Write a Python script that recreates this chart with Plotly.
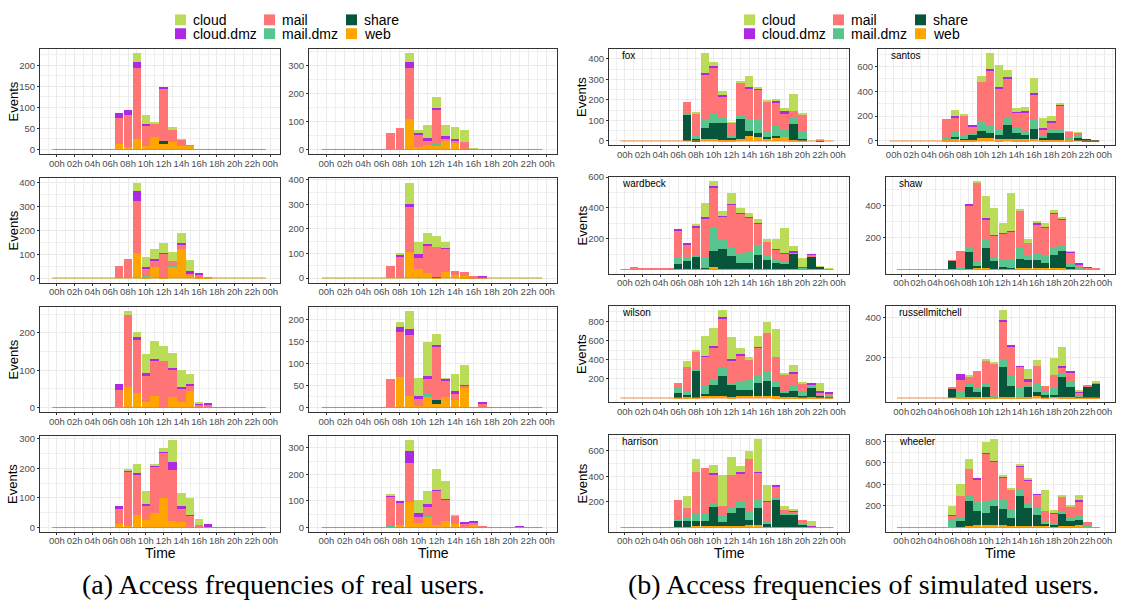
import numpy as np
import plotly.graph_objects as go

# ---------------- data ----------------
HOURS = list(range(24))
X_TICK_VALUES = list(range(0, 25, 2))
X_TICK_LABELS = ["00h", "02h", "04h", "06h", "08h", "10h", "12h",
                 "14h", "16h", "18h", "20h", "22h", "00h"]
SERVICES = ["cloud", "cloud.dmz", "mail", "mail.dmz", "share", "web"]
STACK_ORDER = ["web", "share", "mail.dmz", "mail", "cloud.dmz", "cloud"]
Z6 = [0, 0, 0, 0, 0, 0]

# ---- (a) real users ----
REAL1_WEB = Z6 + [0, 12, 5, 24, 9, 29] + [12, 17, 8, 10, 0, 0] + Z6
REAL1_SHARE = Z6 + [0, 0, 0, 0, 0, 0] + [8, 0, 0, 0, 0, 0] + Z6
REAL1_MAILDMZ = Z6 + Z6 + Z6 + Z6
REAL1_MAIL = Z6 + [0, 62, 76, 171, 50, 34] + [123, 29, 16, 1, 0, 0] + Z6
REAL1_CLOUDDMZ = Z6 + [0, 12, 14, 14, 2, 0] + [6, 0, 0, 0, 0, 0] + Z6
REAL1_CLOUD = Z6 + [0, 0, 0, 20, 20, 2] + [0, 8, 2, 0, 0, 0] + Z6

REAL2_WEB = Z6 + [0, 0, 0, 107, 9, 15] + [17, 32, 27, 2, 0, 0] + Z6
REAL2_SHARE = Z6 + Z6 + Z6 + Z6
REAL2_MAILDMZ = Z6 + Z6 + [1, 0, 0, 0, 0, 0] + Z6
REAL2_MAIL = Z6 + [0, 60, 78, 184, 42, 14] + [122, 7, 6, 24, 0, 0] + Z6
REAL2_CLOUDDMZ = Z6 + [0, 0, 0, 21, 9, 11] + [9, 8, 6, 0, 0, 0] + Z6
REAL2_CLOUD = Z6 + [0, 0, 0, 31, 8, 46] + [39, 42, 41, 43, 5, 0] + Z6

REAL3_WEB = Z6 + [0, 0, 0, 105, 5, 45] + [2, 50, 123, 11, 1, 4] + Z6
REAL3_SHARE = Z6 + Z6 + Z6 + Z6
REAL3_MAILDMZ = Z6 + [0, 0, 0, 0, 7, 0] + [0, 2, 0, 0, 0, 0] + Z6
REAL3_MAIL = Z6 + [0, 52, 78, 220, 26, 25] + [100, 20, 19, 4, 12, 0] + Z6
REAL3_CLOUDDMZ = Z6 + [0, 0, 0, 39, 8, 9] + [3, 0, 5, 16, 4, 0] + Z6
REAL3_CLOUD = Z6 + [0, 0, 0, 36, 43, 41] + [42, 38, 41, 43, 0, 0] + Z6

REAL4_WEB = Z6 + [0, 0, 0, 106, 38, 22] + [2, 25, 12, 8, 0, 0] + Z6
REAL4_SHARE = Z6 + Z6 + [4, 0, 0, 0, 0, 0] + Z6
REAL4_MAILDMZ = Z6 + Z6 + [0, 3, 0, 0, 0, 0] + Z6
REAL4_MAIL = Z6 + [0, 50, 88, 183, 43, 110] + [121, 91, 18, 16, 7, 3] + Z6
REAL4_CLOUDDMZ = Z6 + [0, 0, 7, 12, 17, 7] + [0, 2, 0, 0, 0, 6] + Z6
REAL4_CLOUD = Z6 + [0, 0, 3, 87, 49, 43] + [43, 26, 0, 0, 0, 0] + Z6

REAL5_WEB = Z6 + [0, 0, 55, 39, 15, 31] + [2, 27, 15, 44, 5, 4] + Z6
REAL5_SHARE = Z6 + Z6 + Z6 + Z6
REAL5_MAILDMZ = Z6 + Z6 + Z6 + Z6
REAL5_MAIL = Z6 + [0, 48, 194, 145, 72, 95] + [123, 75, 34, 15, 4, 5] + Z6
REAL5_CLOUDDMZ = Z6 + [0, 16, 0, 5, 5, 5] + [0, 3, 6, 5, 4, 2] + Z6
REAL5_CLOUD = Z6 + [0, 0, 9, 14, 52, 48] + [40, 42, 45, 27, 3, 0] + Z6

REAL6_WEB = Z6 + [0, 0, 70, 25, 4, 27] + [8, 24, 18, 47, 0, 0] + Z6
REAL6_SHARE = Z6 + Z6 + [10, 0, 0, 0, 0, 0] + Z6
REAL6_MAILDMZ = Z6 + [0, 0, 0, 0, 0, 3] + Z6 + Z6
REAL6_MAIL = Z6 + [0, 64, 102, 139, 15, 35] + [118, 37, 13, 3, 0, 10] + Z6
REAL6_CLOUDDMZ = Z6 + [0, 0, 10, 14, 6, 6] + [6, 5, 7, 2, 0, 2] + Z6
REAL6_CLOUD = Z6 + [0, 0, 11, 40, 41, 78] + [24, 1, 38, 44, 1, 0] + Z6

REAL7_WEB = Z6 + [0, 12, 5, 44, 25, 48] + [100, 22, 20, 3, 0, 0] + Z6
REAL7_SHARE = Z6 + Z6 + Z6 + Z6
REAL7_MAILDMZ = Z6 + Z6 + [0, 0, 1, 0, 0, 0] + Z6
REAL7_MAIL = Z6 + [0, 50, 183, 133, 48, 160] + [153, 172, 41, 36, 9, 2] + Z6
REAL7_CLOUDDMZ = Z6 + [0, 11, 4, 8, 7, 3] + [2, 27, 12, 2, 0, 10] + Z6
REAL7_CLOUD = Z6 + [0, 0, 3, 29, 45, 2] + [15, 74, 42, 59, 21, 0] + Z6

REAL8_WEB = Z6 + [0, 5, 10, 95, 18, 43] + [11, 24, 13, 5, 12, 0] + Z6
REAL8_SHARE = Z6 + Z6 + Z6 + Z6
REAL8_MAILDMZ = Z6 + [0, 5, 0, 0, 0, 3] + Z6 + Z6
REAL8_MAIL = Z6 + [0, 108, 83, 149, 23, 32] + [128, 83, 31, 7, 6, 7] + Z6
REAL8_CLOUDDMZ = Z6 + [0, 4, 4, 44, 13, 12] + [2, 2, 0, 8, 6, 0] + [0, 0, 0, 3, 0, 0]
REAL8_CLOUD = Z6 + [0, 2, 0, 40, 51, 48] + [80, 65, 2, 0, 0, 0] + Z6

# ---- (b) simulated users ----
SIM_NAMES = ["fox", "santos", "wardbeck", "shaw",
             "wilson", "russellmitchell", "harrison", "wheeler"]

FOX_WEB = Z6 + [0, 0, 2, 11, 11, 6] + [3, 11, 22, 17, 16, 17] + [17, 6, 6, 0, 0, 0]
FOX_SHARE = Z6 + [0, 127, 9, 53, 76, 81] + [11, 95, 27, 23, 1, 5] + [0, 78, 5, 0, 5, 0]
FOX_MAILDMZ = Z6 + [0, 11, 11, 42, 50, 23] + [13, 22, 51, 60, 32, 49] + [39, 26, 33, 0, 0, 0]
FOX_MAIL = Z6 + [0, 54, 116, 216, 223, 104] + [63, 158, 156, 154, 146, 121] + [77, 36, 85, 0, 3, 0]
FOX_CLOUDDMZ = Z6 + [0, 0, 0, 11, 7, 11] + [0, 0, 9, 4, 0, 3] + [13, 0, 0, 0, 0, 0]
FOX_CLOUD = Z6 + [0, 0, 5, 96, 20, 19] + [3, 4, 51, 4, 5, 10] + [14, 84, 9, 0, 4, 0]

SANTOS_WEB = Z6 + [5, 13, 13, 8, 26, 21] + [13, 18, 13, 13, 18, 10] + [10, 10, 5, 0, 0, 0]
SANTOS_SHARE = Z6 + [0, 21, 11, 37, 53, 45] + [32, 112, 53, 32, 80, 24] + [56, 56, 0, 32, 13, 5]
SANTOS_MAILDMZ = Z6 + [21, 48, 16, 18, 82, 64] + [48, 63, 37, 37, 69, 16] + [24, 24, 19, 5, 0, 0]
SANTOS_MAIL = Z6 + [151, 111, 169, 61, 315, 444] + [330, 310, 127, 153, 209, 48] + [66, 201, 53, 34, 0, 0]
SANTOS_CLOUDDMZ = Z6 + [0, 8, 0, 6, 0, 8] + [8, 10, 3, 8, 10, 8] + [8, 8, 0, 0, 0, 0]
SANTOS_CLOUD = Z6 + [0, 48, 5, 0, 48, 127] + [177, 61, 29, 32, 125, 77] + [34, 8, 5, 4, 0, 0]

WARDBECK_WEB = Z6 + [0, 0, 6, 4, 13, 2] + [4, 6, 6, 6, 6, 6] + [3, 0, 0, 0, 0, 0]
WARDBECK_SHARE = [2, 8, 0, 0, 0, 0] + [34, 52, 76, 5, 110, 133] + [82, 33, 33, 89, 54, 35] + [31, 105, 9, 84, 18, 6]
WARDBECK_MAILDMZ = Z6 + [39, 32, 15, 73, 148, 61] + [62, 71, 79, 64, 35, 26] + [15, 5, 4, 0, 0, 0]
WARDBECK_MAIL = [0, 3, 4, 4, 4, 4] + [181, 79, 178, 249, 264, 146] + [273, 256, 217, 138, 86, 62] + [54, 2, 0, 11, 0, 0]
WARDBECK_CLOUDDMZ = Z6 + [6, 7, 5, 11, 7, 4] + [5, 4, 5, 4, 0, 4] + [5, 6, 6, 4, 0, 0]
WARDBECK_CLOUD = Z6 + [0, 0, 17, 90, 30, 35] + [71, 30, 28, 28, 15, 63] + [163, 35, 58, 0, 4, 3]

SHAW_WEB = Z6 + [0, 0, 6, 10, 8, 6] + [8, 4, 8, 8, 8, 8] + [8, 8, 2, 2, 0, 0]
SHAW_SHARE = Z6 + [53, 4, 104, 12, 127, 47] + [6, 3, 59, 53, 53, 31] + [84, 108, 16, 0, 0, 0]
SHAW_MAILDMZ = Z6 + [0, 8, 25, 27, 47, 27] + [47, 52, 68, 23, 41, 53] + [43, 29, 15, 10, 0, 0]
SHAW_MAIL = [2, 2, 2, 2, 2, 2] + [4, 104, 263, 494, 132, 130] + [161, 178, 234, 79, 180, 167] + [216, 169, 73, 21, 12, 12]
SHAW_CLOUDDMZ = Z6 + [0, 0, 4, 0, 10, 4] + [5, 4, 0, 0, 10, 4] + [4, 6, 4, 4, 2, 0]
SHAW_CLOUD = Z6 + [0, 0, 0, 6, 133, 172] + [61, 237, 9, 27, 6, 25] + [16, 4, 4, 0, 0, 0]

WILSON_WEB = Z6 + [2, 9, 2, 26, 26, 26] + [9, 26, 26, 26, 26, 16] + [9, 9, 9, 9, 9, 9]
WILSON_SHARE = Z6 + [55, 21, 287, 20, 109, 201] + [132, 58, 58, 130, 150, 99] + [58, 68, 17, 102, 17, 14]
WILSON_MAILDMZ = Z6 + [44, 34, 10, 79, 61, 85] + [17, 92, 102, 78, 102, 48] + [10, 58, 41, 10, 17, 13]
WILSON_MAIL = Z6 + [55, 259, 195, 310, 341, 525] + [239, 272, 215, 293, 396, 269] + [174, 123, 89, 24, 20, 21]
WILSON_CLOUDDMZ = Z6 + [0, 0, 0, 7, 7, 7] + [7, 7, 0, 10, 0, 0] + [0, 10, 0, 11, 10, 6]
WILSON_CLOUD = Z6 + [0, 61, 9, 205, 184, 75] + [232, 68, 30, 110, 116, 283] + [7, 72, 10, 0, 83, 0]

RUSSELL_WEB = Z6 + [0, 5, 5, 6, 5, 2] + [5, 6, 3, 5, 10, 5] + [10, 5, 5, 2, 2, 2]
RUSSELL_SHARE = Z6 + [50, 0, 50, 25, 50, 0] + [149, 54, 0, 50, 21, 8] + [5, 101, 50, 10, 60, 74]
RUSSELL_MAILDMZ = Z6 + [0, 24, 13, 23, 13, 11] + [39, 49, 46, 10, 37, 20] + [34, 13, 30, 5, 0, 0]
RUSSELL_MAIL = Z6 + [5, 60, 41, 83, 122, 161] + [192, 148, 109, 20, 90, 27] + [65, 35, 43, 11, 3, 3]
RUSSELL_CLOUDDMZ = Z6 + [0, 30, 0, 0, 0, 0] + [5, 5, 3, 8, 0, 0] + [0, 5, 4, 8, 0, 0]
RUSSELL_CLOUD = Z6 + [0, 0, 5, 0, 5, 5] + [49, 0, 0, 50, 29, 0] + [84, 96, 0, 6, 0, 4]

HARRISON_WEB = Z6 + [0, 5, 10, 10, 15, 10] + [10, 10, 21, 21, 5, 5] + [5, 5, 10, 0, 0, 0]
HARRISON_SHARE = Z6 + [54, 49, 44, 39, 144, 34] + [105, 139, 35, 128, 26, 208] + [95, 98, 10, 0, 0, 0]
HARRISON_MAILDMZ = Z6 + [8, 18, 49, 54, 28, 43] + [34, 59, 62, 72, 20, 20] + [8, 7, 6, 0, 0, 0]
HARRISON_MAIL = Z6 + [151, 77, 335, 364, 231, 82] + [264, 218, 418, 210, 149, 90] + [28, 18, 36, 3, 3, 2]
HARRISON_CLOUDDMZ = Z6 + [0, 0, 0, 0, 8, 0] + [0, 5, 0, 7, 5, 5] + [0, 5, 0, 5, 0, 0]
HARRISON_CLOUD = Z6 + [0, 95, 98, 0, 66, 244] + [138, 51, 61, 252, 131, 0] + [31, 5, 0, 44, 0, 0]

WHEELER_WEB = Z6 + [6, 6, 15, 27, 27, 21] + [27, 15, 15, 15, 15, 15] + [6, 15, 15, 21, 9, 0]
WHEELER_SHARE = Z6 + [0, 58, 230, 128, 106, 179] + [146, 76, 282, 164, 103, 18] + [15, 112, 49, 52, 0, 0]
WHEELER_MAILDMZ = Z6 + [61, 24, 46, 90, 100, 67] + [91, 73, 48, 48, 64, 31] + [21, 21, 21, 39, 12, 0]
WHEELER_MAIL = Z6 + [45, 203, 254, 203, 455, 345] + [203, 181, 225, 209, 121, 91] + [88, 137, 106, 130, 31, 0]
WHEELER_CLOUDDMZ = Z6 + [6, 0, 0, 7, 6, 6] + [6, 0, 6, 6, 6, 0] + [6, 6, 0, 10, 0, 0]
WHEELER_CLOUD = Z6 + [79, 109, 91, 0, 97, 200] + [18, 25, 15, 19, 0, 190] + [28, 12, 15, 48, 0, 0]

CAPTION_A = "(a) Access frequencies of real users."
CAPTION_B = "(b) Access frequencies of simulated users."

# ---------------- styling ----------------
COLORS = {"cloud": "#BADC58", "cloud.dmz": "#AE2AE2", "mail": "#FF7575",
          "mail.dmz": "#58C48E", "share": "#07553A", "web": "#FFA500"}
W, H = 1125, 610
SANS = "Liberation Sans, Arial, sans-serif"


def stack(web, share, mdmz, mail, cdmz, cloud):
    return {"web": web, "share": share, "mail.dmz": mdmz, "mail": mail,
            "cloud.dmz": cdmz, "cloud": cloud}


REAL = [
    stack(REAL1_WEB, REAL1_SHARE, REAL1_MAILDMZ, REAL1_MAIL, REAL1_CLOUDDMZ, REAL1_CLOUD),
    stack(REAL2_WEB, REAL2_SHARE, REAL2_MAILDMZ, REAL2_MAIL, REAL2_CLOUDDMZ, REAL2_CLOUD),
    stack(REAL3_WEB, REAL3_SHARE, REAL3_MAILDMZ, REAL3_MAIL, REAL3_CLOUDDMZ, REAL3_CLOUD),
    stack(REAL4_WEB, REAL4_SHARE, REAL4_MAILDMZ, REAL4_MAIL, REAL4_CLOUDDMZ, REAL4_CLOUD),
    stack(REAL5_WEB, REAL5_SHARE, REAL5_MAILDMZ, REAL5_MAIL, REAL5_CLOUDDMZ, REAL5_CLOUD),
    stack(REAL6_WEB, REAL6_SHARE, REAL6_MAILDMZ, REAL6_MAIL, REAL6_CLOUDDMZ, REAL6_CLOUD),
    stack(REAL7_WEB, REAL7_SHARE, REAL7_MAILDMZ, REAL7_MAIL, REAL7_CLOUDDMZ, REAL7_CLOUD),
    stack(REAL8_WEB, REAL8_SHARE, REAL8_MAILDMZ, REAL8_MAIL, REAL8_CLOUDDMZ, REAL8_CLOUD),
]
SIM = [
    stack(FOX_WEB, FOX_SHARE, FOX_MAILDMZ, FOX_MAIL, FOX_CLOUDDMZ, FOX_CLOUD),
    stack(SANTOS_WEB, SANTOS_SHARE, SANTOS_MAILDMZ, SANTOS_MAIL, SANTOS_CLOUDDMZ, SANTOS_CLOUD),
    stack(WARDBECK_WEB, WARDBECK_SHARE, WARDBECK_MAILDMZ, WARDBECK_MAIL, WARDBECK_CLOUDDMZ, WARDBECK_CLOUD),
    stack(SHAW_WEB, SHAW_SHARE, SHAW_MAILDMZ, SHAW_MAIL, SHAW_CLOUDDMZ, SHAW_CLOUD),
    stack(WILSON_WEB, WILSON_SHARE, WILSON_MAILDMZ, WILSON_MAIL, WILSON_CLOUDDMZ, WILSON_CLOUD),
    stack(RUSSELL_WEB, RUSSELL_SHARE, RUSSELL_MAILDMZ, RUSSELL_MAIL, RUSSELL_CLOUDDMZ, RUSSELL_CLOUD),
    stack(HARRISON_WEB, HARRISON_SHARE, HARRISON_MAILDMZ, HARRISON_MAIL, HARRISON_CLOUDDMZ, HARRISON_CLOUD),
    stack(WHEELER_WEB, WHEELER_SHARE, WHEELER_MAILDMZ, WHEELER_MAIL, WHEELER_CLOUDDMZ, WHEELER_CLOUD),
]

REAL_STEPS = [50, 100, 100, 100, 100, 50, 100, 100]
SIM_STEPS = [100, 200, 200, 200, 200, 200, 200, 200]
SIM_SHOW_ZERO = [True, True, False, False, False, False, False, False]

# panel frames in screen pixels
LEFT_COLS = [(40, 280), (309, 557)]
LEFT_ROWS = [(43, 150), (174, 280), (304, 411), (435, 532)]
RIGHT_COLS = [(609, 849), (886, 1115)]
RIGHT_ROWS = [(43, 141), (173, 271), (303, 401), (434, 532)]
LEFT_XRANGE = [-1.9, 25.1]
RIGHT_XRANGE = [-1.8, 25.25]


def fx(px):
    return px / W


def fy(py):
    return 1 - py / H


fig = go.Figure()
layout = {}
annotations = []
shapes = []

panels = []
for k in range(8):
    r, c = divmod(k, 2)
    panels.append(dict(data=REAL[k], cols=LEFT_COLS[c], rows=LEFT_ROWS[r],
                       xr=LEFT_XRANGE, step=REAL_STEPS[k], zero=True,
                       name=None, line="#C29A1E", col=c, row=r, group="L"))
for k in range(8):
    r, c = divmod(k, 2)
    cols = RIGHT_COLS[c]
    if c == 1 and r == 0:
        cols = (878, 1115)
    panels.append(dict(data=SIM[k], cols=cols, rows=RIGHT_ROWS[r],
                       xr=RIGHT_XRANGE, step=SIM_STEPS[k], zero=SIM_SHOW_ZERO[k],
                       name=SIM_NAMES[k], line="#F28A3A", col=c, row=r, group="R"))

for i, p in enumerate(panels, start=1):
    sfx = "" if i == 1 else str(i)
    xa, ya = "x" + sfx, "y" + sfx
    data = p["data"]
    # zero baseline across the whole day
    fig.add_trace(go.Scatter(x=[HOURS[0] - 0.5, HOURS[-1] + 0.5], y=[0, 0],
                             mode="lines", line=dict(color=p["line"], width=1),
                             xaxis=xa, yaxis=ya, showlegend=False, hoverinfo="skip"))
    for s in STACK_ORDER:
        fig.add_trace(go.Bar(x=HOURS, y=data[s], name=s, marker_color=COLORS[s],
                             marker_line_width=0, width=0.96,
                             xaxis=xa, yaxis=ya, showlegend=False))
    totals = np.sum([np.array(data[s]) for s in STACK_ORDER], axis=0)
    m = float(totals.max())
    yr = [-0.05 * m, 1.05 * m]
    step = p["step"]
    start = 0 if p["zero"] else step
    yt = list(np.arange(start, yr[1], step))
    yminor = list(np.arange(step / 2, yr[1], step))
    x0, x1 = p["cols"]
    y0, y1 = p["rows"]
    common = dict(showline=True, mirror=True, linecolor="#333333", linewidth=1,
                  ticks="outside", ticklen=2, tickcolor="#333333", tickwidth=1,
                  tickfont=dict(family=SANS, size=9.5, color="#4D4D4D"),
                  showgrid=True, gridcolor="#EBEBEB", gridwidth=1.1,
                  zeroline=False, fixedrange=True, tickangle=0)
    layout["xaxis" + sfx] = dict(
        domain=[fx(x0), fx(x1)], anchor=ya, range=p["xr"],
        tickmode="array", tickvals=X_TICK_VALUES, ticktext=X_TICK_LABELS,
        ticklabelstandoff=-2,
        minor=dict(tickmode="array", tickvals=list(np.arange(-1, 26, 2)),
                   showgrid=True, gridcolor="#EFEFEF", gridwidth=0.7, ticks=""),
        **common)
    layout["yaxis" + sfx] = dict(
        domain=[fy(y1), fy(y0)], anchor=xa, range=yr,
        tickmode="array", tickvals=yt, ticktext=[str(int(v)) for v in yt],
        minor=dict(tickmode="array", tickvals=yminor, showgrid=True,
                   gridcolor="#EFEFEF", gridwidth=0.7, ticks=""),
        **common)
    if p["name"]:
        annotations.append(dict(text=p["name"], xref=xa + " domain", yref=ya + " domain",
                                x=11 / (x1 - x0), y=1, xanchor="left", yanchor="top",
                                yshift=1, showarrow=False,
                                font=dict(family=SANS, size=10, color="black")))
    if p["col"] == 0:
        ex = 13 if p["group"] == "L" else 582
        annotations.append(dict(text="Events", xref="paper", yref="paper",
                                x=fx(ex), y=fy((y0 + y1) / 2), textangle=-90,
                                xanchor="center", yanchor="middle", showarrow=False,
                                font=dict(family=SANS, size=13, color="black")))
    if p["row"] == 3:
        annotations.append(dict(text="Time", xref="paper", yref="paper",
                                x=fx((x0 + x1) / 2), y=fy(553), xanchor="center",
                                yanchor="middle", showarrow=False,
                                font=dict(family=SANS, size=14, color="black")))

# legends (one per sub-figure), 3 columns x 2 rows
LEGEND_COLUMNS = [["cloud", "cloud.dmz"], ["mail", "mail.dmz"], ["share", "web"]]
for swatch_x in ([175, 264, 346], [744, 833, 915]):
    for ci, colitems in enumerate(LEGEND_COLUMNS):
        for ri, s in enumerate(colitems):
            cy = 14 + 14 * ri
            sx = swatch_x[ci]
            shapes.append(dict(type="rect", xref="paper", yref="paper",
                               x0=fx(sx), x1=fx(sx + 11), y0=fy(cy + 5.5), y1=fy(cy - 5.5),
                               fillcolor=COLORS[s], line=dict(width=0)))
            annotations.append(dict(text=s, xref="paper", yref="paper",
                                    x=fx(sx + 16), y=fy(cy), xanchor="left",
                                    yanchor="middle", showarrow=False,
                                    font=dict(family=SANS, size=14, color="black")))

for text, cx in ((CAPTION_A, 283), (CAPTION_B, 863)):
    annotations.append(dict(text=text, xref="paper", yref="paper", x=fx(cx), y=fy(585),
                            xanchor="center", yanchor="middle", showarrow=False,
                            font=dict(family="Liberation Serif, Times New Roman, serif",
                                      size=28, color="black")))

fig.update_layout(width=W, height=H, margin=dict(l=0, r=0, t=0, b=0),
                  paper_bgcolor="white", plot_bgcolor="white",
                  barmode="stack", bargap=0.04, showlegend=False,
                  annotations=annotations, shapes=shapes, **layout)

# place the figure flush with the page corner (remove the default body margin)
fig.write_html("out.html", config={"displayModeBar": False},
               post_script="document.body.style.margin='0px';document.body.style.overflow='hidden';")
